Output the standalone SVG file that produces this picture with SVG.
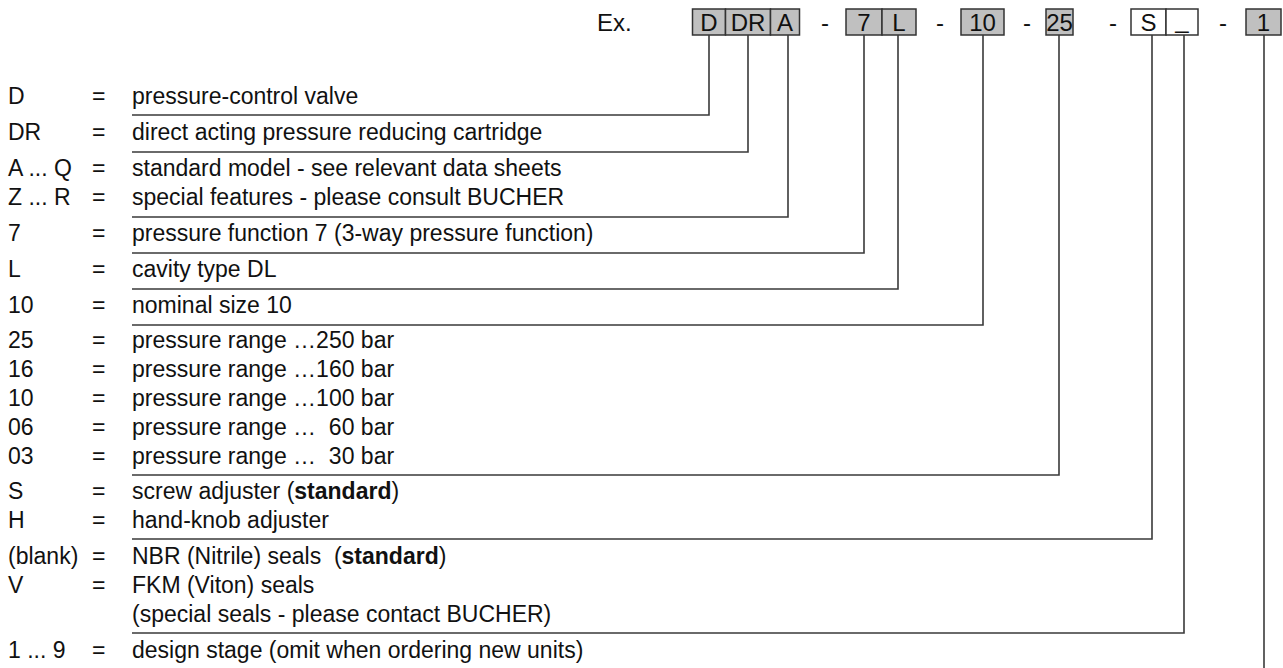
<svg xmlns="http://www.w3.org/2000/svg" width="1283" height="668" viewBox="0 0 1283 668">
<style>
text{font-family:"Liberation Sans",Arial,sans-serif;font-size:23px;fill:#111;white-space:pre}
.h{font-size:24px}
.c{text-anchor:middle}
.b{font-weight:bold}
.box{fill:#c0c0c0;stroke:#333;stroke-width:1.5}
.wbox{fill:#fff;stroke:#333;stroke-width:1.5}
.ln{fill:none;stroke:#3a3a3a;stroke-width:1.6}
</style>
<rect width="1283" height="668" fill="#fff"/>
<g id="header">
<text class="h" x="597" y="31">Ex.</text>
<g id="box-D"><rect class="box" x="692.5" y="9" width="33" height="26"/><text class="h c" x="709" y="31">D</text></g>
<g id="box-DR"><rect class="box" x="725.5" y="9" width="45" height="26"/><text class="h c" x="748" y="31">DR</text></g>
<g id="box-A"><rect class="box" x="770.5" y="9" width="29" height="26"/><text class="h c" x="785" y="31">A</text></g>
<text class="h c" x="825" y="31">-</text>
<g id="box-7"><rect class="box" x="846" y="9" width="36" height="26"/><text class="h c" x="864" y="31">7</text></g>
<g id="box-L"><rect class="box" x="882" y="9" width="34" height="26"/><text class="h c" x="899" y="31">L</text></g>
<text class="h c" x="940" y="31">-</text>
<g id="box-10"><rect class="box" x="961" y="9" width="43" height="26"/><text class="h c" x="982.5" y="31">10</text></g>
<text class="h c" x="1027" y="31">-</text>
<g id="box-25"><rect class="box" x="1046" y="9" width="27" height="26"/><text class="h c" x="1059.5" y="31">25</text></g>
<text class="h c" x="1113" y="31">-</text>
<g id="box-S"><rect class="wbox" x="1131" y="9" width="35" height="26"/><text class="h c" x="1148.5" y="31">S</text></g>
<g id="box-blank"><rect class="wbox" x="1166" y="9" width="32" height="26"/><text class="h c" x="1182" y="28">_</text></g>
<text class="h c" x="1223" y="31">-</text>
<g id="box-1"><rect class="box" x="1246" y="9" width="35" height="26"/><text class="h c" x="1263.5" y="31">1</text></g>
</g>
<g id="connectors">
<polyline class="ln" points="709,35 709,115 132,115"/>
<polyline class="ln" points="748,35 748,152 132,152"/>
<polyline class="ln" points="788,35 788,217 132,217"/>
<polyline class="ln" points="864,35 864,253 132,253"/>
<polyline class="ln" points="898,35 898,289 132,289"/>
<polyline class="ln" points="983,35 983,325 132,325"/>
<polyline class="ln" points="1059,35 1059,475 132,475"/>
<polyline class="ln" points="1152,35 1152,539 132,539"/>
<polyline class="ln" points="1184,35 1184,633 132,633"/>
<polyline class="ln" points="1264,35 1264,668"/>
</g>
<g id="legend-D"><text x="8" y="104">D</text><text x="92" y="104">=</text><text x="132" y="104">pressure-control valve</text></g>
<g id="legend-DR"><text x="8" y="140">DR</text><text x="92" y="140">=</text><text x="132" y="140">direct acting pressure reducing cartridge</text></g>
<g id="legend-A"><text x="8" y="176">A ... Q</text><text x="92" y="176">=</text><text x="132" y="176">standard model - see relevant data sheets</text>
<text x="8" y="205">Z ... R</text><text x="92" y="205">=</text><text x="132" y="205">special features - please consult BUCHER</text></g>
<g id="legend-7"><text x="8" y="241">7</text><text x="92" y="241">=</text><text x="132" y="241">pressure function 7 (3-way pressure function)</text></g>
<g id="legend-L"><text x="8" y="277">L</text><text x="92" y="277">=</text><text x="132" y="277">cavity type DL</text></g>
<g id="legend-10"><text x="8" y="313">10</text><text x="92" y="313">=</text><text x="132" y="313">nominal size 10</text></g>
<g id="legend-25">
<text x="8" y="348">25</text><text x="92" y="348">=</text><text x="132" y="348">pressure range …250 bar</text>
<text x="8" y="377">16</text><text x="92" y="377">=</text><text x="132" y="377">pressure range …160 bar</text>
<text x="8" y="406">10</text><text x="92" y="406">=</text><text x="132" y="406">pressure range …100 bar</text>
<text x="8" y="435">06</text><text x="92" y="435">=</text><text x="132" y="435">pressure range …  60 bar</text>
<text x="8" y="464">03</text><text x="92" y="464">=</text><text x="132" y="464">pressure range …  30 bar</text>
</g>
<g id="legend-S">
<text x="8" y="499">S</text><text x="92" y="499">=</text><text x="132" y="499">screw adjuster (<tspan class="b">standard</tspan>)</text>
<text x="8" y="528">H</text><text x="92" y="528">=</text><text x="132" y="528">hand-knob adjuster</text>
</g>
<g id="legend-seals">
<text x="8" y="564">(blank)</text><text x="92" y="564">=</text><text x="132" y="564">NBR (Nitrile) seals  (<tspan class="b">standard</tspan>)</text>
<text x="8" y="593">V</text><text x="92" y="593">=</text><text x="132" y="593">FKM (Viton) seals</text>
<text x="132" y="622">(special seals - please contact BUCHER)</text>
</g>
<g id="legend-1"><text x="8" y="658">1 ... 9</text><text x="92" y="658">=</text><text x="132" y="658">design stage (omit when ordering new units)</text></g>
</svg>
